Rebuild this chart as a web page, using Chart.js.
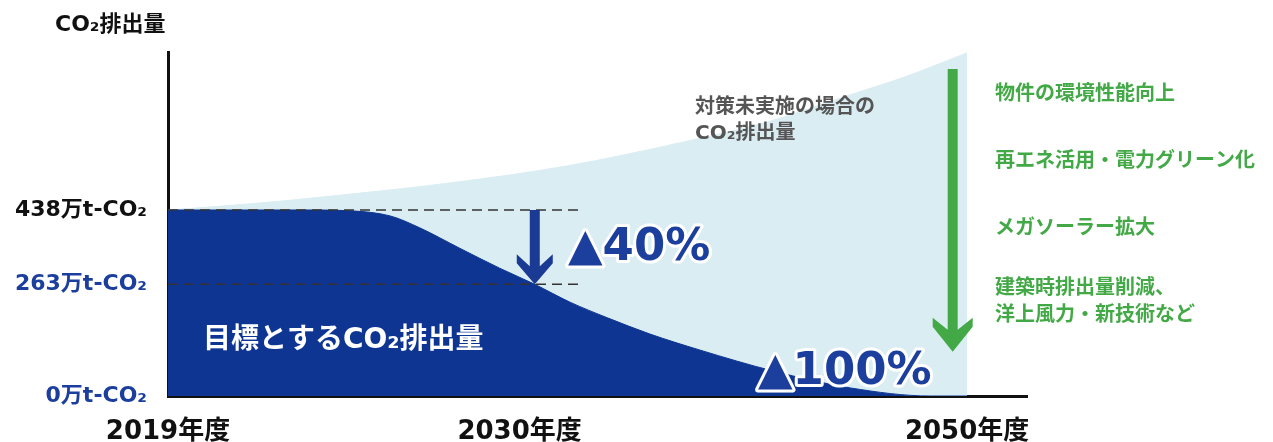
<!DOCTYPE html>
<html lang="ja">
<head>
<meta charset="utf-8">
<script src="https://cdn.jsdelivr.net/npm/chart.js@4.4.1/dist/chart.umd.min.js"></script>
<style>
  html, body { margin: 0; padding: 0; background: #fff; }
</style>
</head>
<body>
<canvas id="co2Chart" width="1273" height="442"></canvas>
<script>
// 横軸（2019年度=0 〜 2050年度=100 の相対位置）
const xTickPos = [0, 44, 100];
const xTickLabels = ['2019年度', '2030年度', '2050年度'];

// 縦軸（万t-CO2）
const yTickValues = [0, 263, 438];
const yTickLabels = ['0万t-CO₂', '263万t-CO₂', '438万t-CO₂'];

// 目標とするCO2排出量
const targetX = [0, 16.5, 22.8, 27.8, 31.5, 36.5, 41.5, 45.9, 50.3, 55, 60.3, 66.6, 75.7, 85.4, 95.4, 100];
const targetY = [438, 438, 436, 424, 396, 348, 301, 263, 221, 184, 146, 108, 59, 19, 0, 0];

// 対策未実施の場合のCO2排出量
const bauX = [0, 10, 20, 35, 50, 64, 75, 85, 92, 100];
const bauY = [438, 452, 470, 501, 542, 596, 645, 707, 750, 808];

// 破線（2019年度・2030年度の水準）
const guideX = [0, 51.6];
const guideLevels = [438, 263];

// 矢印（▲40% と 右側の緑の矢印）
const reductionArrow = { x: 45.9, from: 438, to: 263 };
const measuresArrow = { x: 98.2, from: 770, to: 104 };

const measures = ['物件の環境性能向上', '再エネ活用・電力グリーン化', 'メガソーラー拡大', '建築時排出量削減、', '洋上風力・新技術など'];

const FONT = '"DejaVu Sans", "Noto Sans CJK JP", sans-serif';
const DARK = '#0e3592';
const LIGHT = '#daedf3';
const BLUE_TXT = '#1c3f9e';
const GREEN = '#43a947';

const toPoints = (xs, ys) => xs.map((x, i) => ({ x: x, y: ys[i] }));

function drawArrow(ctx, x, y1, y2, sw, hw, hh, color) {
  const notch = 12;
  ctx.save();
  ctx.fillStyle = color;
  ctx.beginPath();
  ctx.moveTo(x - sw / 2, y1);
  ctx.lineTo(x + sw / 2, y1);
  ctx.lineTo(x + sw / 2, y2 - hh + notch);
  ctx.lineTo(x + hw / 2, y2 - hh);
  ctx.lineTo(x + hw / 2, y2 - hh + 9);
  ctx.lineTo(x, y2);
  ctx.lineTo(x - hw / 2, y2 - hh + 9);
  ctx.lineTo(x - hw / 2, y2 - hh);
  ctx.lineTo(x - sw / 2, y2 - hh + notch);
  ctx.closePath();
  ctx.fill();
  ctx.restore();
}

function outlinedText(ctx, text, x, y) {
  ctx.lineJoin = 'round';
  ctx.lineWidth = 6;
  ctx.strokeStyle = '#fff';
  ctx.strokeText(text, x, y);
  ctx.fillStyle = BLUE_TXT;
  ctx.fillText(text, x, y);
}

// 注記・矢印を描くプラグイン
const notesPlugin = {
  id: 'notes',
  afterDatasetsDraw(chart) {
    const ctx = chart.ctx;
    const xs = chart.scales.x, ys = chart.scales.y;

    // 矢印
    drawArrow(ctx, xs.getPixelForValue(reductionArrow.x), ys.getPixelForValue(reductionArrow.from),
      ys.getPixelForValue(reductionArrow.to), 10, 36, 30, '#1a3a94');
    drawArrow(ctx, xs.getPixelForValue(measuresArrow.x), ys.getPixelForValue(measuresArrow.from),
      ys.getPixelForValue(measuresArrow.to), 10, 40, 34, GREEN);

    ctx.save();
    ctx.textBaseline = 'middle';
    ctx.textAlign = 'left';

    // 縦軸タイトル
    ctx.font = 'bold 22px ' + FONT;
    ctx.fillStyle = '#111';
    ctx.fillText('CO₂排出量', 55, 25);

    // 対策未実施の場合
    ctx.font = 'bold 20px ' + FONT;
    ctx.fillStyle = '#555';
    ctx.fillText('対策未実施の場合の', 695, 108);
    ctx.fillText('CO₂排出量', 695, 134);

    // 目標とするCO2排出量
    ctx.font = 'bold 28px ' + FONT;
    ctx.fillStyle = '#fff';
    ctx.fillText('目標とするCO₂排出量', 203, 341);

    // 削減率
    ctx.font = 'bold 45px ' + FONT;
    outlinedText(ctx, '▲40%', 568, 248);
    outlinedText(ctx, '▲100%', 758, 372);

    // 施策
    ctx.font = 'bold 20px ' + FONT;
    ctx.fillStyle = GREEN;
    const ty = [95, 162, 229, 289, 316];
    measures.forEach((m, i) => ctx.fillText(m, 995, ty[i]));
    ctx.restore();
  }
};

const datasets = [
  ...guideLevels.map(v => ({
    data: toPoints(guideX, guideX.map(() => v)),
    borderColor: '#333',
    borderWidth: 1.5,
    borderDash: [10, 6],
    pointRadius: 0,
    fill: false,
    order: 0
  })),
  {
    data: toPoints(targetX, targetY),
    borderColor: DARK,
    borderWidth: 1,
    backgroundColor: DARK,
    pointRadius: 0,
    fill: 'origin',
    cubicInterpolationMode: 'monotone',
    order: 1
  },
  {
    data: toPoints(bauX, bauY),
    borderColor: LIGHT,
    borderWidth: 1,
    backgroundColor: LIGHT,
    pointRadius: 0,
    fill: 'origin',
    cubicInterpolationMode: 'monotone',
    order: 2
  }
];

new Chart(document.getElementById('co2Chart'), {
  type: 'line',
  data: { datasets: datasets },
  options: {
    responsive: false,
    animation: false,
    devicePixelRatio: 1,
    layout: { padding: { top: 52, right: 246, left: 0, bottom: 0 } },
    plugins: { legend: { display: false }, tooltip: { enabled: false } },
    scales: {
      x: {
        type: 'linear',
        min: 0,
        max: 107.5,
        grid: { display: false },
        border: { display: true, color: '#111', width: 3 },
        afterBuildTicks: s => { s.ticks = xTickPos.map(v => ({ value: v })); },
        afterFit: s => { s.height = 46; },
        ticks: {
          autoSkip: false,
          maxRotation: 0,
          padding: 13,
          color: '#111',
          font: { family: FONT, size: 26, weight: 'bold' },
          callback: v => xTickLabels[xTickPos.indexOf(v)]
        }
      },
      y: {
        min: 0,
        max: 810,
        grid: { display: false },
        border: { display: true, color: '#111', width: 3 },
        afterBuildTicks: s => { s.ticks = yTickValues.map(v => ({ value: v })); },
        afterFit: s => { s.width = 168; },
        ticks: {
          autoSkip: false,
          padding: 13,
          color: c => (c.tick && c.tick.value === 438 ? '#111' : BLUE_TXT),
          font: { family: FONT, size: 22, weight: 'bold' },
          callback: v => yTickLabels[yTickValues.indexOf(v)]
        }
      }
    }
  },
  plugins: [notesPlugin]
});
</script>
</body>
</html>
